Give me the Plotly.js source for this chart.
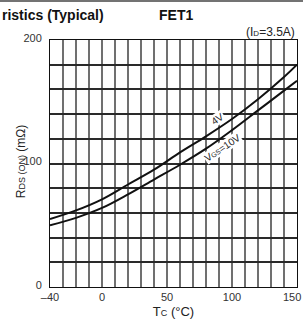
<!DOCTYPE html>
<html>
<head>
<meta charset="utf-8">
<script src="https://cdn.plot.ly/plotly-3.0.1.min.js"></script>
<style>html,body{margin:0;padding:0;background:#fff;}#chart{width:303px;height:323px;}</style>
</head>
<body>
<div id="chart"></div>
<script>
// Case temperature (°C)
const tempC = [-40, -20, 0, 20, 40, 60, 80, 100, 120, 140, 150];
// RDS(ON) (mΩ) at VGS = 4 V
const rds4V = [55, 62, 71, 83, 95, 109, 122, 136, 152, 170, 180];
// RDS(ON) (mΩ) at VGS = 10 V
const rds10V = [50, 56, 64, 75, 87, 99, 112, 127, 143, 159, 167];
// Grid positions and labels
const xGridVals = [-40, -30, -20, -10, 0, 10, 20, 30, 40, 50, 60, 70, 80, 90, 100, 110, 120, 130, 140, 150];
const xLabelVals = [-40, 0, 50, 100, 150];
const xLabelText = ['\u201340', '0', '50', '100', '150'];
const yGridVals = [0, 20, 40, 60, 80, 100, 120, 140, 160, 180, 200];
const yLabelVals = [0, 100, 200];

const FONT = 'Liberation Sans, Arial, sans-serif';

const xGridText = xGridVals.map(v => { const i = xLabelVals.indexOf(v); return (i >= 0 && v !== 150) ? xLabelText[i] : ''; });
const yGridText = yGridVals.map(v => yLabelVals.indexOf(v) >= 0 ? String(v) : '');

const traces = [
  {x: tempC, y: rds4V, mode: 'lines', line: {color: '#111', width: 2, shape: 'spline'}, name: '4V', hoverinfo: 'skip'},
  {x: tempC, y: rds10V, mode: 'lines', line: {color: '#111', width: 2, shape: 'spline'}, name: '10V', hoverinfo: 'skip'}
];

const layout = {
  width: 303, height: 323,
  margin: {l: 50, r: 6, t: 39.5, b: 36, pad: 0},
  paper_bgcolor: '#fff', plot_bgcolor: '#fff',
  showlegend: false,
  font: {family: FONT, color: '#222', size: 11},
  xaxis: {
    range: [-40, 150], tickmode: 'array', tickvals: xGridVals, ticktext: xGridText,
    showgrid: true, gridcolor: '#707070', gridwidth: 2,
    showline: true, linecolor: '#111', linewidth: 1, mirror: true,
    ticks: '', zeroline: false, tickfont: {size: 11, color: '#333'},
    title: {text: 'T<span style="font-size:9px">C</span> (°C)', font: {size: 13, color: '#222'}, standoff: 4}
  },
  yaxis: {
    range: [0, 200], tickmode: 'array', tickvals: yGridVals, ticktext: yGridText,
    showgrid: true, gridcolor: '#2a2a2a', gridwidth: 2,
    showline: true, linecolor: '#111', linewidth: 1, mirror: true,
    ticks: '', zeroline: false, tickfont: {size: 11, color: '#333'},
    ticklabelshift: -2, ticklabelstandoff: 5
  },
  annotations: [
    {xref: 'paper', yref: 'paper', x: -50/247, y: (287-14)/247.5, xanchor: 'left', yanchor: 'middle',
     text: '<b>ristics (Typical)</b>', showarrow: false, font: {size: 14, color: '#111'}},
    {xref: 'paper', yref: 'paper', x: (176-50)/247, y: (287-14)/247.5, xanchor: 'center', yanchor: 'middle',
     text: '<b>FET1</b>', showarrow: false, font: {size: 14, color: '#111'}},
    {xref: 'paper', yref: 'paper', x: 1, y: (287-31)/247.5, xanchor: 'right', yanchor: 'middle',
     text: '(I<span style="font-size:8px">D</span>=3.5A)', showarrow: false, font: {size: 12, color: '#222'}},
    {xref: 'paper', yref: 'paper', x: (303-50)/247, y: -10/247.5, xanchor: 'right', yanchor: 'middle',
     text: xLabelText[4], showarrow: false, font: {size: 11, color: '#333'}},
    {xref: 'paper', yref: 'paper', x: (21-50)/247, y: (287-162)/247.5, xanchor: 'center', yanchor: 'middle',
     text: 'R<span style="font-size:9px">DS (ON)</span> (mΩ)', textangle: -90, showarrow: false,
     font: {size: 12, color: '#222'}},
    {x: 89.2, y: 136.6, text: '4V', showarrow: false, textangle: -34, bgcolor: '#fff',
     borderpad: 0, font: {size: 10, color: '#222'}},
    {x: 93, y: 113, text: 'V<span style="font-size:7px">GS</span>=10V', showarrow: false, textangle: -34,
     bgcolor: '#fff', borderpad: 0, font: {size: 10, color: '#222'}}
  ],
  shapes: [
    {type: 'line', xref: 'paper', yref: 'paper', x0: -0.3, x1: 1.1, y0: (287-0.5)/247.5, y1: (287-0.5)/247.5,
     line: {color: '#444', width: 1.5}}
  ]
};

Plotly.newPlot('chart', traces, layout, {displayModeBar: false});
</script>
</body>
</html>
